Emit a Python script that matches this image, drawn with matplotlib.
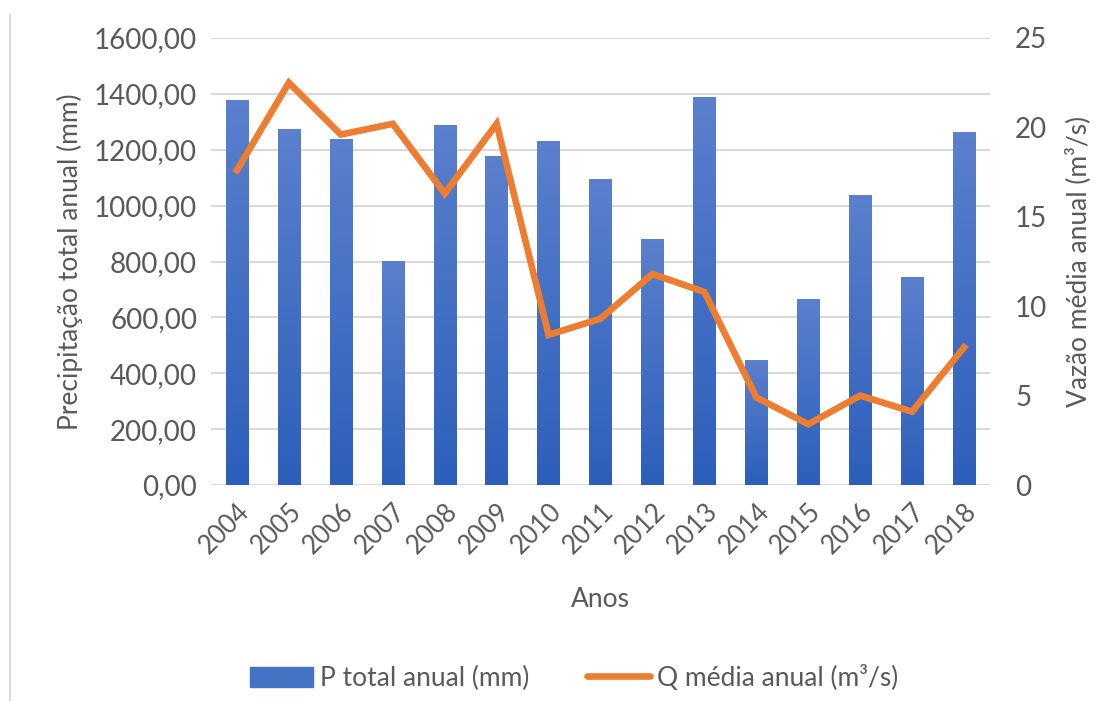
import numpy as np
import matplotlib
matplotlib.use("Agg")
import matplotlib.pyplot as plt
from matplotlib.lines import Line2D
from matplotlib.patches import Patch

anos = ['2004', '2005', '2006', '2007', '2008', '2009', '2010', '2011',
        '2012', '2013', '2014', '2015', '2016', '2017', '2018']
p_total = [1378, 1274, 1238, 802, 1289, 1178, 1231, 1095,
           880, 1389, 447, 666, 1038, 745, 1263]
q_media = [17.6, 22.5, 19.6, 20.2, 16.3, 20.2, 8.4, 9.3,
           11.8, 10.8, 4.9, 3.4, 5.0, 4.1, 7.7]

plt.rcParams['font.family'] = ['Lato', 'DejaVu Sans']
cinza = '#595959'
azul = '#4472C4'
laranja = '#ED7D31'

fig = plt.figure(figsize=(11.14, 7.15), dpi=100)
ax = fig.add_axes([211/1114, 1 - 485/715, 779/1114, 447/715])
x = np.arange(len(anos))

# bars with a light vertical gradient like the original
bars = ax.bar(x, p_total, width=0.43, color=azul, zorder=2)
grad = np.linspace(0, 1, 256).reshape(-1, 1)
cmap = matplotlib.colors.LinearSegmentedColormap.from_list('g', ['#2C5FBB', '#5B80CD'])
for b in bars:
    b.set_facecolor('none')
    xb, wb, hb = b.get_x(), b.get_width(), b.get_height()
    im = ax.imshow(grad, extent=[xb, xb + wb, 0, hb], origin='lower', cmap=cmap,
                   aspect='auto', zorder=2)
    im.set_clip_path(b)

ax.set_xlim(-0.5, len(anos) - 0.5)
ax.set_ylim(0, 1600)
ax.set_yticks(np.arange(0, 1601, 200))
ax.set_yticklabels(['%d,00' % v for v in range(0, 1601, 200)])
ax.set_xticks(x)
ax.set_xticklabels(anos, rotation=45, ha='right', rotation_mode='anchor')
ax.yaxis.grid(True, color='#D9D9D9', linewidth=1.5, zorder=0)
ax.set_axisbelow(True)
for s in ax.spines.values():
    s.set_visible(False)
ax.tick_params(length=0, labelsize=20, colors=cinza, pad=10)
ax.tick_params(axis='x', labelsize=18.5, pad=10)
ax.set_ylabel('Precipitação total anual (mm)', fontsize=19, color=cinza, labelpad=8)
ax.set_xlabel('Anos', fontsize=19, color=cinza, labelpad=20)

ax2 = ax.twinx()
ax2.plot(x, q_media, color=laranja, linewidth=4.8, solid_joinstyle='miter', zorder=3)
ax2.set_ylim(0, 25)
ax2.set_yticks(np.arange(0, 26, 5))
for s in ax2.spines.values():
    s.set_visible(False)
ax2.tick_params(length=0, labelsize=20, colors=cinza, pad=18)
ax2.set_ylabel('Vazão média anual (m³/s)', fontsize=19, color=cinza, labelpad=13)
ax.set_xlim(-0.5, len(anos) - 0.5)

handles = [Patch(facecolor=azul, edgecolor=azul),
           Line2D([0], [0], color=laranja, linewidth=4.8, solid_capstyle='round')]
fig.legend(handles, ['P total anual (mm)', 'Q média anual (m³/s)'], loc='center',
           bbox_to_anchor=(574/1114, 1 - 678/715), ncol=2, frameon=False,
           fontsize=19, labelcolor=cinza, handlelength=2.4, handleheight=0.8,
           handletextpad=0.25, columnspacing=2.2)

fig.add_artist(Line2D([10/1114, 10/1114], [1 - 700/715, 1 - 15/715],
                      color='#D9D9D9', linewidth=1.5))

fig.savefig('out.png', dpi=100)
